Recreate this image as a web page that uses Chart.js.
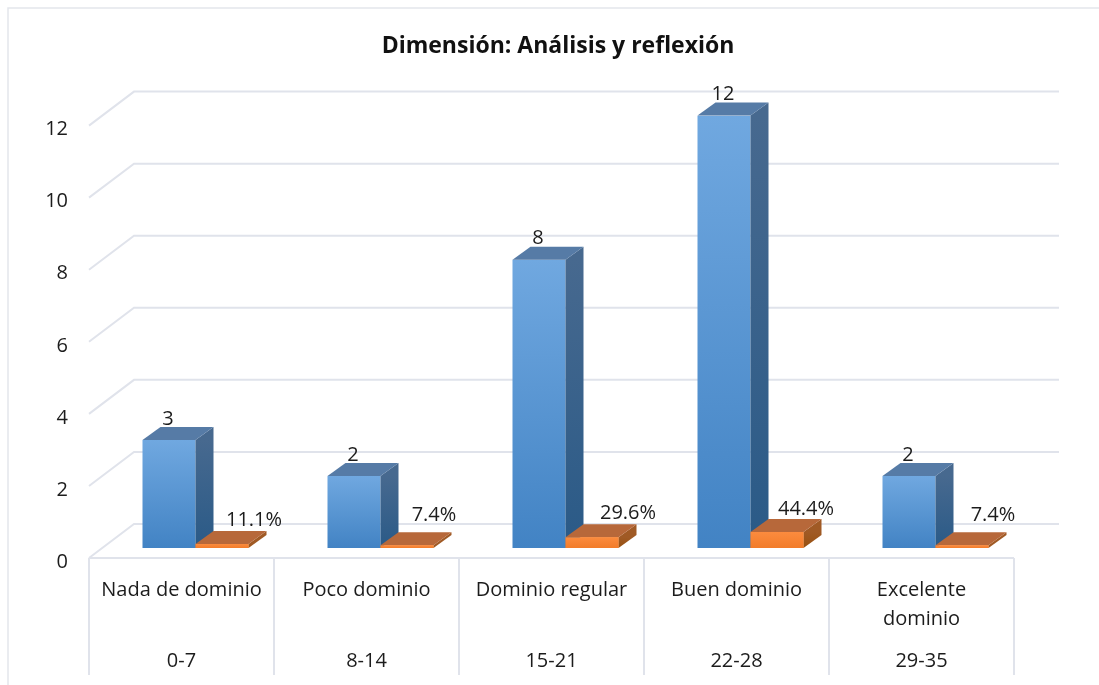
<!DOCTYPE html>
<html><head><meta charset="utf-8">
<style>html,body{margin:0;padding:0;background:#fff}canvas{display:block}</style>
<script src="https://cdn.jsdelivr.net/npm/chart.js@4"></script>
</head><body><div style="width:1099px;height:685px"><canvas id="c" width="1099" height="685"></canvas></div>
<script>
const categories=["Nada de dominio","Poco dominio","Dominio regular","Buen dominio",["Excelente","dominio"]];
const ranges=["0-7","8-14","15-21","22-28","29-35"];
const counts=[3,2,8,12,2];
const shares=[0.111,0.074,0.296,0.444,0.074];
const FONT='"Open Sans"';
const TEXT='#1c1c1c', LINE='#E0E3EB';
const depth={dx:18,dy:13}, wall={fx:-14,fy:10,bx:31,by:-24};
const shareNudge=[[32,-24],[27,-30],[36,-24],[29,-23],[31,-30]];
function grad(c,col1,col2,y1,y2){const g=c.createLinearGradient(0,y1,0,y2);g.addColorStop(0,col1);g.addColorStop(1,col2);return g;}
function front(col1,col2){return ctx=>{const ch=ctx.chart,y=ch.scales.y;if(!y||!ctx.parsed)return col1;
  const y1=y.getPixelForValue(ctx.parsed.y),y2=y.getPixelForValue(0);
  if(!Number.isFinite(y1)||!Number.isFinite(y2))return col1;
  return grad(ch.ctx,col1,col2,y1,y2);};}
function poly(c,pts,fill){c.beginPath();pts.forEach((p,i)=>i?c.lineTo(p[0],p[1]):c.moveTo(p[0],p[1]));c.closePath();c.fillStyle=fill;c.fill();}
function faces(c,el,topCol,s1,s2){const p=el.getProps(['x','y','base','width'],true),l=p.x-p.width/2,r=p.x+p.width/2,d=depth;
  poly(c,[[r,p.y],[r+d.dx,p.y-d.dy],[r+d.dx,p.base-d.dy],[r,p.base]],grad(c,s1,s2,p.y,p.base));
  poly(c,[[l,p.y],[l+d.dx,p.y-d.dy],[r+d.dx,p.y-d.dy],[r,p.y]],topCol);}
const walls={id:'walls',
 afterLayout(ch){const t=ch.titleBlock;if(t){t.left+=24;t.right+=24;}},
 beforeDraw(ch){const c=ch.ctx;c.save();c.strokeStyle='#E3E6EC';c.lineWidth=1.5;c.beginPath();c.moveTo(8,685);c.lineTo(8,8);c.lineTo(1099,8);c.stroke();c.restore();},
 beforeDatasetsDraw(ch){const c=ch.ctx,y=ch.scales.y,a=ch.chartArea;c.save();c.strokeStyle=LINE;c.lineWidth=2;
  const lf=a.left+wall.fx,lb=a.left+wall.bx,rf=a.right+wall.fx,rb=a.right+wall.bx;
  y.ticks.forEach(t=>{const py=y.getPixelForValue(t.value);c.beginPath();c.moveTo(lf,py+wall.fy);c.lineTo(lb,py+wall.by);c.lineTo(rb,py+wall.by);c.stroke();});
  const y0=y.getPixelForValue(0)+wall.fy;
  c.beginPath();c.moveTo(lf,y0);c.lineTo(rf,y0);c.stroke();
  const step=(a.right-a.left)/categories.length;
  for(let i=0;i<=categories.length;i++){const px=lf+i*step;c.beginPath();c.moveTo(px,y0);c.lineTo(px,675);c.stroke();}
  c.restore();},
 afterDatasetsDraw(ch){const c=ch.ctx;c.save();
  ch.getDatasetMeta(0).data.forEach(e=>faces(c,e,'#567BA6','#47698F','#2A5A87'));
  ch.getDatasetMeta(1).data.forEach(e=>{faces(c,e,'#B7683A','#A05A25','#97500F');e.draw(c);});
  c.font='20px '+FONT;c.fillStyle=TEXT;c.textAlign='center';c.textBaseline='middle';
  ch.getDatasetMeta(0).data.forEach((e,i)=>c.fillText(String(counts[i]),e.x-1,e.y-21));
  ch.getDatasetMeta(1).data.forEach((e,i)=>c.fillText((shares[i]*100).toFixed(1)+'%',e.x+shareNudge[i][0],e.y+shareNudge[i][1]));
  c.restore();}
};
new Chart(document.getElementById('c'),{type:'bar',
 data:{labels:categories,datasets:[
  {label:'Frecuencia',data:counts,backgroundColor:front('#70A8E0','#4283C4'),categoryPercentage:0.573,barPercentage:1,borderWidth:0},
  {label:'Porcentaje',data:shares,backgroundColor:front('#FB8B3E','#F27C2A'),categoryPercentage:0.573,barPercentage:1,borderWidth:0}]},
 plugins:[walls],
 options:{responsive:false,animation:false,
  layout:{padding:{left:40,right:71,top:0,bottom:0}},
  plugins:{legend:{display:false},tooltip:{enabled:false},
   title:{display:true,text:'Dimensión: Análisis y reflexión',color:'#111',font:{family:FONT,size:23,weight:'bold',lineHeight:1.2},padding:{top:33,bottom:55}}},
  scales:{
   y:{min:0,max:12,ticks:{stepSize:2,color:TEXT,font:{family:FONT,size:20},padding:27,labelOffset:14},grid:{display:false},border:{display:false},
      afterFit(s){s.width=63;}},
   x:{position:'bottom',offset:true,ticks:{color:TEXT,font:{family:FONT,size:20,lineHeight:1.45},padding:20,labelOffset:-14,maxRotation:0,autoSkip:false},grid:{display:false},border:{display:false},
      afterFit(s){s.height=89;}},
   xRange:{type:'category',axis:'x',position:'bottom',labels:ranges,offset:true,ticks:{color:TEXT,font:{family:FONT,size:20},padding:4,labelOffset:-14,maxRotation:0,autoSkip:false},grid:{display:false},border:{display:false},
      afterFit(s){s.height=48;}}
  }}});
</script></body></html>
